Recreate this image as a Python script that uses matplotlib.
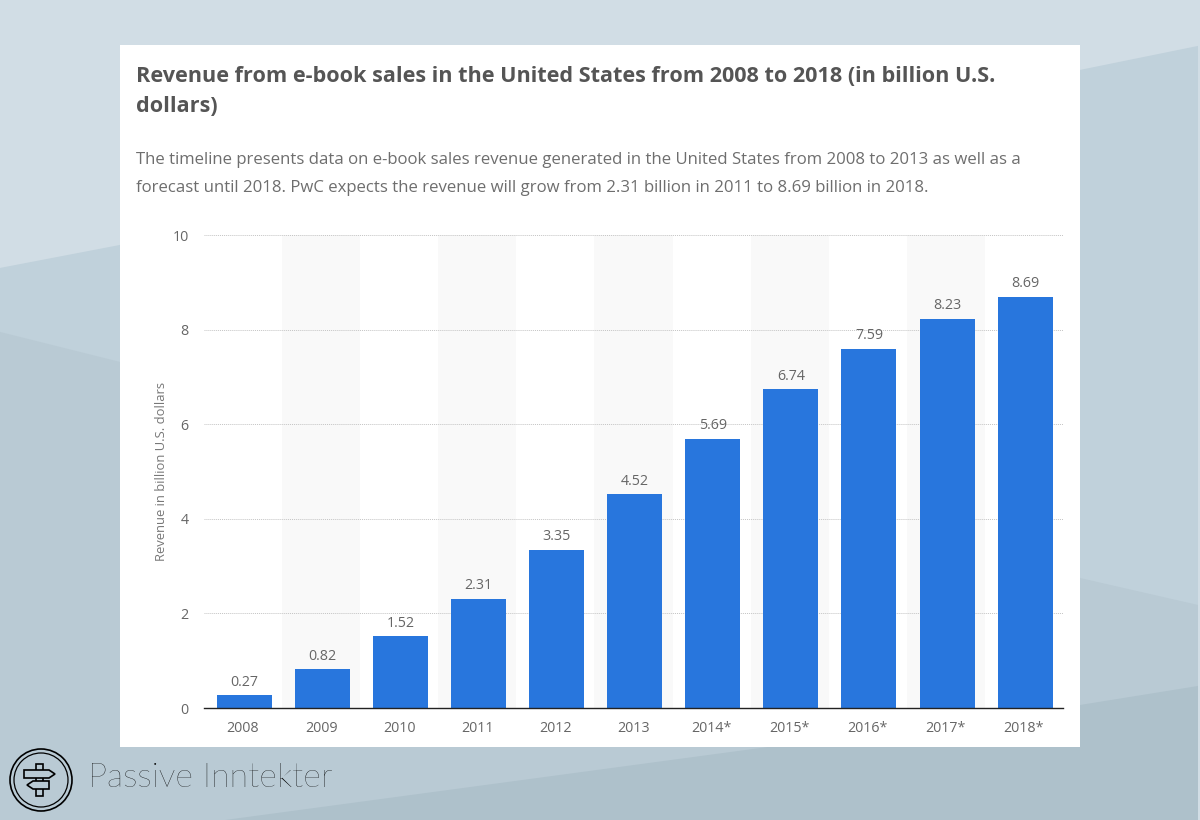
#!/usr/bin/env python3
"""
Revenue from e-book sales in the US, on a card over a slide background.
"""

import numpy as np
import matplotlib
matplotlib.use('Agg')
import matplotlib.pyplot as plt
from matplotlib.patches import Circle, Polygon, Rectangle

# Data
years = ['2008', '2009', '2010', '2011', '2012', '2013',
         '2014*', '2015*', '2016*', '2017*', '2018*']
revenue = [0.27, 0.82, 1.52, 2.31, 3.35, 4.52, 5.69, 6.74, 7.59, 8.23, 8.69]
y_ticks = [0, 2, 4, 6, 8, 10]

title = 'Revenue from e-book sales in the United States from 2008 to 2018 (in billion U.S.\ndollars)'
subtitle = ('The timeline presents data on e-book sales revenue generated in the United States from 2008 to 2013 as well as a\n'
            'forecast until 2018. PwC expects the revenue will grow from 2.31 billion in 2011 to 8.69 billion in 2018.')
y_label = 'Revenue in billion U.S. dollars'
brand = 'Passive Inntekter'

W, H = 1200, 820
plt.rcParams['font.family'] = ['Open Sans', 'DejaVu Sans']

# 8.2 in rounds down to 819 px, hence the extra bit
fig = plt.figure(figsize=(W / 100, (H + 0.1) / 100), dpi=100)

# Background layer, in pixel coordinates
bg = fig.add_axes([0, 0, 1, 1])
bg.set_xlim(0, W)
bg.set_ylim(H, 0)
bg.axis('off')
bg.add_patch(Rectangle((0, 0), W, H, color='#d1dde5', lw=0))
bg.add_patch(Polygon([(0, 268), (120, 245), (1080, 70), (1198, 46), (1198, 820), (0, 820)],
                     color='#c0d1db', lw=0))
bg.add_patch(Polygon([(0, 332), (120, 362), (1080, 578), (1198, 605), (1198, 820), (0, 820)],
                     color='#b9cad4', lw=0))
bg.add_patch(Polygon([(225, 820), (1080, 705), (1198, 686), (1198, 820)],
                     color='#aec1cb', lw=0))
bg.add_patch(Rectangle((120, 45), 960, 702, color='white', lw=0, zorder=2))

# Logo
ink = '#000000'
bg.add_patch(Circle((41, 780), 31, fill=False, ec=ink, lw=1.2, zorder=3))
bg.add_patch(Circle((41, 780), 27, fill=False, ec=ink, lw=0.9, zorder=3))
bg.add_patch(Rectangle((36, 764), 7, 32, fill=False, ec=ink, lw=1.2, zorder=3))
bg.add_patch(Polygon([(24, 770), (49, 770), (55, 774), (49, 778), (24, 778)],
                     fc='#b9cad4', ec=ink, lw=1.2, zorder=4))
bg.add_patch(Polygon([(33, 781), (49, 781), (49, 789), (33, 789), (27, 785)],
                     fc='#b9cad4', ec=ink, lw=1.2, zorder=4))
bg.text(88, 778, brand, fontsize=24.5, family='Lato', weight='light', color=ink,
        va='center', ha='left', zorder=3)

# Titles
bg.text(136, 91.5, title, fontsize=15.6, weight='bold', color='#555555',
        va='center', ha='left', linespacing=1.52, zorder=3)
bg.text(136, 174, subtitle, fontsize=12.05, color='#6e6e6e',
        va='center', ha='left', linespacing=1.97, zorder=3)

# Chart axes
ax = fig.add_axes([204 / W, 1 - 708 / H, 859 / W, 473 / H])
ax.patch.set_alpha(0)
x = np.arange(len(years))

for i in x[1::2]:
    ax.axvspan(i - 0.5, i + 0.5, color='#f9f9f9', lw=0, zorder=0)

# bars sit a touch right of the band centres in the original
ax.bar(x + 0.015, revenue, width=0.705, color='#2876dd', zorder=3)
for xi, val in zip(x, revenue):
    ax.annotate(f'{val:.2f}', (xi + 0.015, val), xytext=(0, 4), textcoords='offset points',
                ha='center', va='bottom', fontsize=10.3, color='#666666', zorder=4)

ax.set_xlim(-0.5, len(years) - 0.5)
ax.set_ylim(0, 10)
ax.set_xticks(x, years)
ax.set_yticks(y_ticks)
ax.tick_params(axis='both', length=0, labelsize=10.3, labelcolor='#666666')
ax.tick_params(axis='x', pad=9)
ax.tick_params(axis='y', pad=11)
ax.grid(axis='y', color='#c4c4c4', linestyle=(0, (1, 1)), linewidth=0.7, zorder=1)
ax.set_axisbelow(True)
for name in ['top', 'left', 'right']:
    ax.spines[name].set_visible(False)
ax.spines['bottom'].set_color('#222222')
ax.spines['bottom'].set_linewidth(1.0)
ax.spines['bottom'].set_zorder(5)
ax.set_ylabel(y_label, fontsize=9.4, color='#777777', labelpad=3)

plt.savefig('out.png', dpi=100)
